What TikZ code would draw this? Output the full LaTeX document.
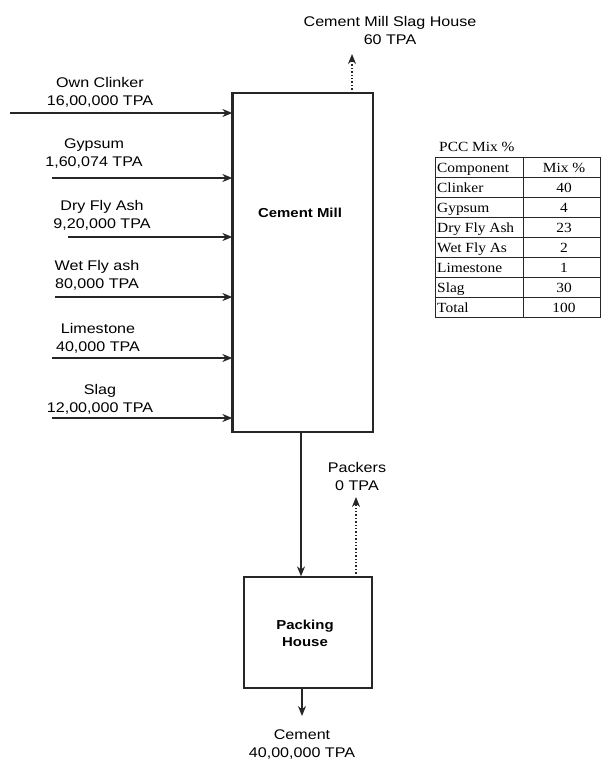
\documentclass[tikz,border=0pt]{standalone}
\usepackage{fontspec}
\setmainfont[FakeStretch=1.15]{Liberation Sans}
\newfontfamily\tabfont[FakeStretch=1.1]{Liberation Serif}
\usetikzlibrary{arrows.meta}
\begin{document}
\begin{tikzpicture}[x=1pt,y=-1pt,
  lbl/.style={font=\fontsize{14}{18}\selectfont, align=center, inner sep=0pt},
  flow/.style={line width=1.4pt, draw=black!85, -{Stealth[length=10pt,width=8pt]}},
  dflow/.style={line width=1.4pt, draw=black!85, dotted, -{Stealth[length=10pt,width=8pt,sep=0pt]}},
  boxst/.style={draw=black!85, line width=1.3pt, fill=white, inner sep=0pt},
  cell/.style={font=\tabfont\fontsize{14}{16}\selectfont, inner sep=0pt}]
\useasboundingbox (0,0) rectangle (608,765);
\fill[white] (0,0) rectangle (608,765);

% Cement Mill
\node[boxst, minimum width=140pt, minimum height=339pt] (cm) at (303,262.5) {};
\node[font=\bfseries\fontsize{13}{16}\selectfont] (cmt) at (300,213) {Cement Mill};
\draw[line width=3pt, black!85] (cm.north west) -- (cm.south west);

% inputs
\coordinate (s1) at (10,113);
\coordinate (s2) at (52,178);
\coordinate (s3) at (68,237);
\coordinate (s4) at (55,297);
\coordinate (s5) at (52,358);
\coordinate (s6) at (52,418);
\foreach \i in {1,...,6}{\draw[flow] (s\i) -- (s\i -| cm.west);}
\node[lbl] (l1) at (100,92) {Own Clinker\\16,00,000 TPA};
\node[lbl] (l2) at (94,154) {Gypsum\\1,60,074 TPA};
\node[lbl] (l3) at (102,215) {Dry Fly Ash\\9,20,000 TPA};
\node[lbl] (l4) at (97,275) {Wet Fly ash\\80,000 TPA};
\node[lbl] (l5) at (98,338) {Limestone\\40,000 TPA};
\node[lbl] (l6) at (100,399) {Slag\\12,00,000 TPA};

% top output
\coordinate (topc) at (352,93);
\coordinate (topend) at (352,54);
\draw[dflow] (topc) -- (topend);
\node[lbl] (toplbl) at (390,30) {Cement Mill Slag House\\60 TPA};

% Packing house
\node[boxst, minimum width=128pt, minimum height=111pt] (ph) at (308,632.5) {};
\node[font=\bfseries\fontsize{13}{17}\selectfont, align=center] (pht) at (305,633) {Packing\\House};

\coordinate (cmb) at (301,432);
\draw[flow] (cmb) -- (cmb |- ph.north);
\coordinate (phb) at (356,577);
\coordinate (phend) at (356,497);
\draw[dflow] (phb) -- (phend);
\node[lbl] (pklbl) at (357,476) {Packers\\0 TPA};

\coordinate (pho) at (302,688);
\coordinate (phoend) at (302,716);
\draw[flow] (pho) -- (phoend);
\node[lbl] (outlbl) at (302,744) {Cement\\40,00,000 TPA};

% table
\node[font=\tabfont\fontsize{14}{16}\selectfont, anchor=base west, inner sep=0pt] (tt) at (439,151) {PCC Mix \%};
\draw[line width=1pt, black!85] (435,157) rectangle (600,317);
\foreach \y in {177,197,217,237,257,277,297}{\draw[line width=1pt, black!85] (435,\y) -- (600,\y);}
\draw[line width=1pt, black!85] (523,157) -- (523,317);
\foreach \n/\a/\b [count=\k from 0] in {h/Component/Mix \%, r1/Clinker/40, r2/Gypsum/4, r3/Dry Fly Ash/23, r4/Wet Fly As/2, r5/Limestone/1, r6/Slag/30, r7/Total/100}{
  \node[cell, anchor=base west] (\n a) at (437,172+20*\k) {\a};
  \node[cell, anchor=base] (\n b) at (564,172+20*\k) {\b};
}
\end{tikzpicture}
\end{document}
